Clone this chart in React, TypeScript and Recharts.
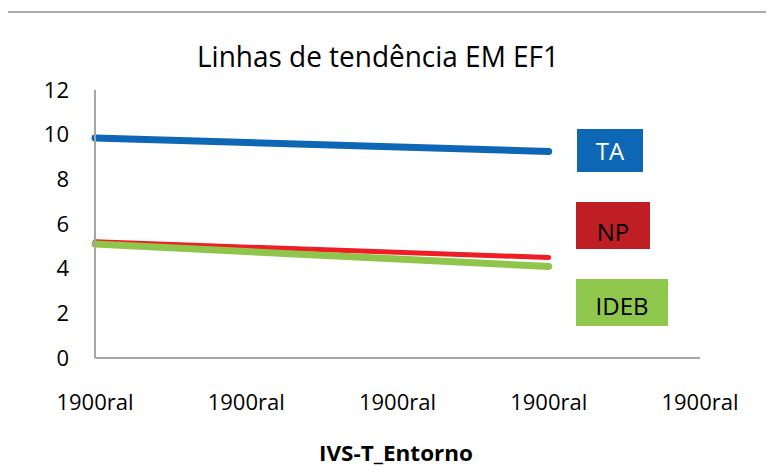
import React from 'react';
import { LineChart, Line, XAxis, YAxis, Legend, Customized } from 'recharts';

// ---- data ----
const xLabels = ['1900ral', '1900ral', '1900ral', '1900ral', '1900ral'];
const taValues: (number | null)[] = [9.85, null, null, 9.25, null];
const npValues: (number | null)[] = [5.2, null, null, 4.5, null];
const idebValues: (number | null)[] = [5.1, null, null, 4.1, null];
const yTicks = [0, 2, 4, 6, 8, 10, 12];
const seriesNames = ['TA', 'NP', 'IDEB'];
const lineColors = ['#0E67B4', '#EE1D26', '#8EC54A'];
const boxColors = ['#0E67B4', '#BE1E24', '#8FC64C'];
const boxTextColors = ['#FFFFFF', '#000000', '#000000'];
const title = 'Linhas de tendência EM EF1';
const xTitle = 'IVS-T_Entorno';

const data = xLabels.map((label, i) => ({
  i,
  label,
  TA: taValues[i],
  NP: npValues[i],
  IDEB: idebValues[i],
}));

const FONT = '"Open Sans", "Noto Sans", sans-serif';

// legend box layout (pixels)
const boxLayout: Record<string, { left: number; top: number; width: number; height: number; pad: number }> = {
  TA: { left: 577, top: 129, width: 66, height: 43, pad: 0 },
  NP: { left: 576, top: 202, width: 74, height: 47, pad: 6 },
  IDEB: { left: 576, top: 279, width: 92, height: 47, pad: 3 },
};

const LegendBoxes = (props: any) => {
  const payload = (props.payload || []).slice().sort(
    (a: any, b: any) => seriesNames.indexOf(a.value) - seriesNames.indexOf(b.value)
  );
  return (
    <div>
      {payload.map((p: any) => {
        const idx = seriesNames.indexOf(p.value);
        const b = boxLayout[p.value];
        if (!b) return null;
        return (
          <div
            key={p.value}
            style={{
              position: 'absolute',
              left: b.left,
              top: b.top,
              width: b.width,
              height: b.height,
              background: boxColors[idx],
              color: boxTextColors[idx],
              fontFamily: FONT,
              fontSize: 24,
              lineHeight: `${b.height}px`,
              textAlign: 'center',
              paddingTop: b.pad,
              boxSizing: 'border-box',
            }}
          >
            {p.value}
          </div>
        );
      })}
    </div>
  );
};

const Titles = () => (
  <g>
    <text x={378} y={67} textAnchor="middle" fontFamily={FONT} fontSize={29} fill="#000" textLength={362} lengthAdjust="spacingAndGlyphs">
      {title}
    </text>
    <text x={396} y={461} textAnchor="middle" fontFamily={FONT} fontSize={22} fontWeight="bold" fill="#000" textLength={154} lengthAdjust="spacingAndGlyphs">
      {xTitle}
    </text>
  </g>
);

export default function App() {
  return (
    <div style={{ position: 'relative', width: 774, height: 475, margin: -8, overflow: 'hidden', background: '#fff' }}>
      <div
        style={{
          position: 'absolute',
          left: 5,
          top: 11,
          width: 900,
          height: 700,
          border: '2px solid #ABABAB',
        }}
      />
      <div style={{ position: 'absolute', left: 0, top: 0 }}>
        <LineChart width={774} height={475} data={data} margin={{ top: 90, right: 74, left: 0, bottom: 0 }}>
          <XAxis
            dataKey="i"
            type="category"
            padding={{ left: 0, right: 0 }}
            height={117}
            axisLine={{ stroke: '#A6A6A6', strokeWidth: 2 }}
            tickLine={false}
            tickMargin={30}
            tickFormatter={(_v: any, idx: number) => xLabels[idx]}
            tick={{ fill: '#000', fontSize: 22, fontFamily: FONT }}
            interval={0}
          />
          <YAxis
            domain={[0, 12]}
            ticks={yTicks}
            width={95}
            axisLine={{ stroke: '#A6A6A6', strokeWidth: 2 }}
            tickLine={false}
            tickMargin={20}
            tick={{ fill: '#000', fontSize: 22, fontFamily: FONT }}
            interval={0}
          />
          <Line dataKey="NP" name="NP" stroke={lineColors[1]} strokeWidth={5} dot={false} connectNulls strokeLinecap="round" isAnimationActive={false} />
          <Line dataKey="IDEB" name="IDEB" stroke={lineColors[2]} strokeWidth={7} dot={false} connectNulls strokeLinecap="round" isAnimationActive={false} />
          <Line dataKey="TA" name="TA" stroke={lineColors[0]} strokeWidth={7} dot={false} connectNulls strokeLinecap="round" isAnimationActive={false} />
          <Legend
            layout="vertical"
            align="center"
            verticalAlign="middle"
            wrapperStyle={{ position: 'absolute', left: 0, top: 0, width: 0, height: 0 }}
            content={<LegendBoxes />}
          />
          <Customized component={Titles} />
        </LineChart>
      </div>
    </div>
  );
}
